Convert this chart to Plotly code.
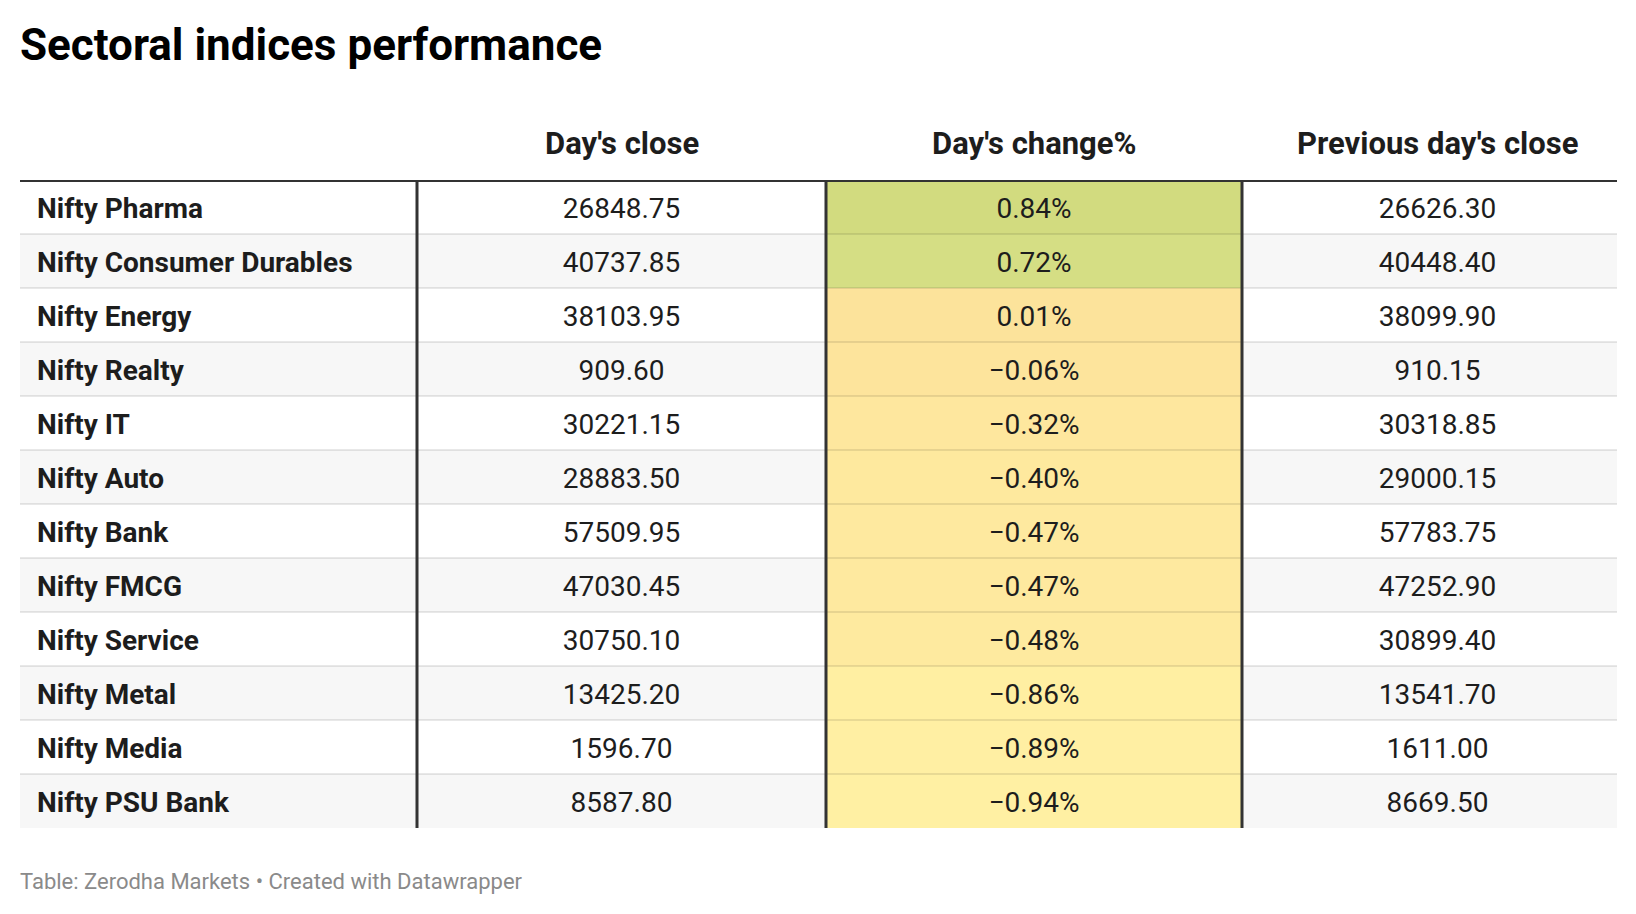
import plotly.graph_objects as go

# --- data -------------------------------------------------------------
indices = [
    "Nifty Pharma", "Nifty Consumer Durables", "Nifty Energy", "Nifty Realty",
    "Nifty IT", "Nifty Auto", "Nifty Bank", "Nifty FMCG", "Nifty Service",
    "Nifty Metal", "Nifty Media", "Nifty PSU Bank",
]
day_close = [26848.75, 40737.85, 38103.95, 909.60, 30221.15, 28883.50,
             57509.95, 47030.45, 30750.10, 13425.20, 1596.70, 8587.80]
day_change = [0.84, 0.72, 0.01, -0.06, -0.32, -0.40,
              -0.47, -0.47, -0.48, -0.86, -0.89, -0.94]
prev_close = [26626.30, 40448.40, 38099.90, 910.15, 30318.85, 29000.15,
              57783.75, 47252.90, 30899.40, 13541.70, 1611.00, 8669.50]
headers = ["", "Day's close", "Day's change%", "Previous day's close"]

# --- layout constants -------------------------------------------------
FONT = "Roboto"
TEXT = "#1d1d1d"
DARK = "#333333"
col_widths = [397, 409, 416, 375]
edges = [0]
for w in col_widths:
    edges.append(edges[-1] + w)
centers = [(edges[i] + edges[i + 1]) / 2 for i in range(len(col_widths))]
centers[3] += 8
rows = list(range(len(indices)))
text_dy = 0.07  # nudge cell text down a little within its row
text_y = [r + text_dy for r in rows]

change_scale = [
    [0.0, "#fff0a3"],
    [0.528, "#fde39b"],
    [0.933, "#d5de84"],
    [1.0, "#d2db7f"],
]


def fmt_num(v):
    return f"{v:.2f}"


def fmt_pct(v):
    return f"{v:.2f}%".replace("-", "\u2212")


fig = go.Figure()

# zebra background for the whole table
fig.add_trace(go.Heatmap(
    x=edges, y=rows,
    z=[[r % 2] * len(col_widths) for r in rows],
    colorscale=[[0, "#ffffff"], [1, "#f7f7f7"]],
    zmin=0, zmax=1, showscale=False, hoverinfo="skip",
))

# colour-coded change column
fig.add_trace(go.Heatmap(
    x=edges[2:4], y=rows,
    z=[[v] for v in day_change],
    colorscale=change_scale,
    zmin=min(day_change), zmax=max(day_change),
    showscale=False, hoverinfo="skip",
))

# cell texts
fig.add_trace(go.Scatter(
    x=[17] * len(rows), y=text_y, text=indices, mode="text",
    textposition="middle right",
    textfont=dict(family=FONT, size=28, color=TEXT, weight=700),
    hoverinfo="skip",
))
for col, values, fmt in [(1, day_close, fmt_num), (2, day_change, fmt_pct), (3, prev_close, fmt_num)]:
    fig.add_trace(go.Scatter(
        x=[centers[col]] * len(rows), y=text_y,
        text=[fmt(v) for v in values], mode="text",
        textposition="middle center",
        textfont=dict(family=FONT, size=28, color=TEXT),
        hoverinfo="skip",
    ))

# row separators
for r in rows[:-1]:
    fig.add_shape(type="line", xref="x", yref="y",
                  x0=edges[0], x1=edges[-1], y0=r + 0.5, y1=r + 0.5,
                  line=dict(color="rgba(0,0,0,0.09)", width=2), layer="above")

# column dividers
for e in edges[1:-1]:
    fig.add_shape(type="line", xref="x", yref="y",
                  x0=e, x1=e, y0=-0.5, y1=rows[-1] + 0.5,
                  line=dict(color=DARK, width=3), layer="above")

# header rule
fig.add_shape(type="line", xref="x", yref="y",
              x0=edges[0], x1=edges[-1], y0=-0.5, y1=-0.5,
              line=dict(color=DARK, width=4), layer="above")

# column headers
for c, h in zip(centers, headers):
    if h:
        fig.add_annotation(x=c, xref="x", y=1, yref="paper", yanchor="middle",
                           yshift=37, text=h, showarrow=False,
                           font=dict(family=FONT, size=31, color=TEXT, weight=700))

# title and footer
fig.add_annotation(x=0, xref="paper", xanchor="left", xshift=-2,
                   y=1, yref="paper", yanchor="middle", yshift=135,
                   text="Sectoral indices performance", showarrow=False,
                   font=dict(family=FONT, size=44, color="#000000", weight=700))
fig.add_annotation(x=0, xref="paper", xanchor="left", xshift=-2,
                   y=0, yref="paper", yanchor="middle", yshift=-53,
                   text="Table: Zerodha Markets \u2022 Created with Datawrapper",
                   showarrow=False,
                   font=dict(family=FONT, size=22, color="#8a8a8a"))

fig.update_xaxes(range=[edges[0], edges[-1]], visible=False, fixedrange=True)
fig.update_yaxes(range=[rows[-1] + 0.5, -0.5], visible=False, fixedrange=True)
fig.update_layout(
    width=1636, height=914,
    margin=dict(l=20, r=19, t=180, b=86, pad=0),
    plot_bgcolor="white", paper_bgcolor="white",
    showlegend=False, hovermode=False,
)

fig.write_html("out.html", config={"displayModeBar": False},
               post_script="document.body.style.margin = '0';")
